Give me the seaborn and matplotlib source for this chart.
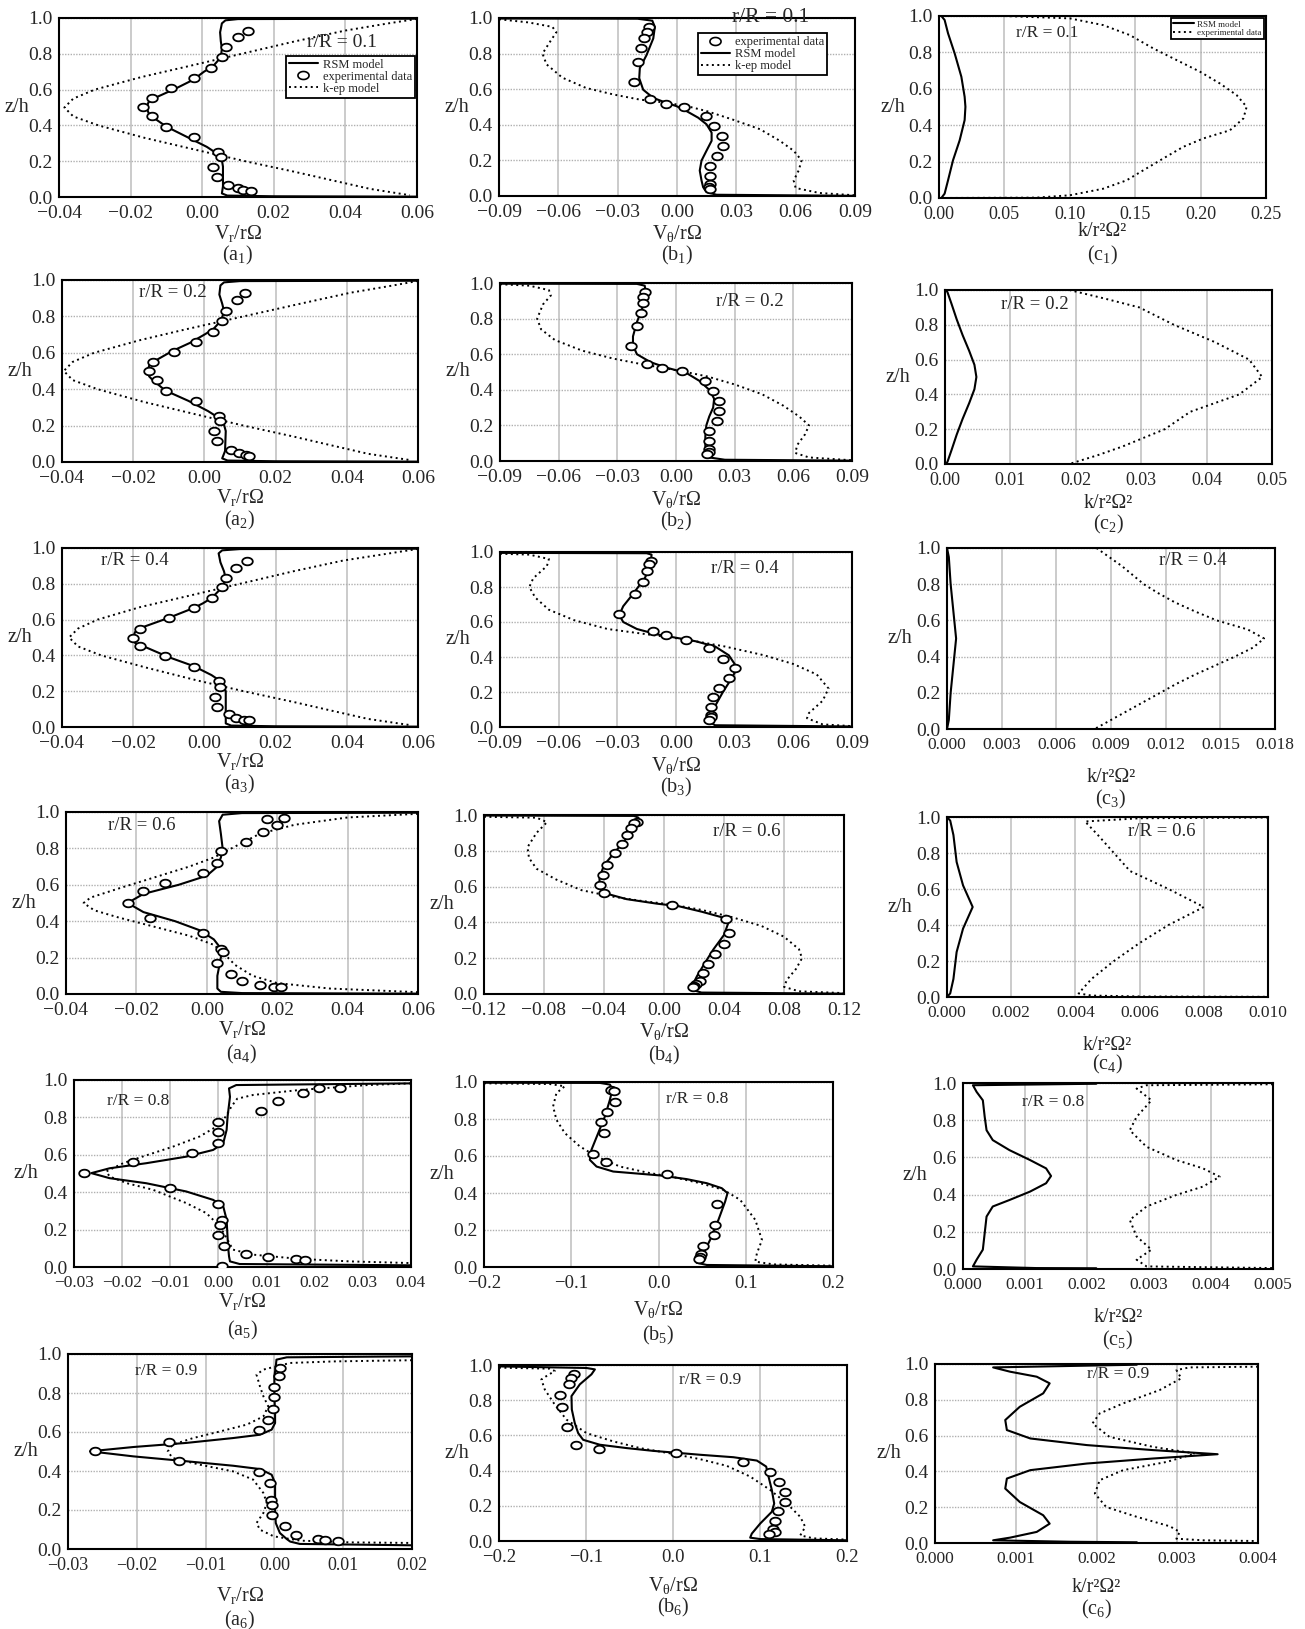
import numpy as np
import matplotlib
matplotlib.use('Agg')
import matplotlib.pyplot as plt
import seaborn as sns
from matplotlib.path import Path
from matplotlib.lines import Line2D
from matplotlib.ticker import FuncFormatter, FixedLocator

# ---------------- data (x value, z/h) ----------------
Z_TICKS = [0.0, 0.2, 0.4, 0.6, 0.8, 1.0]
A_TICKS_14 = [-0.04, -0.02, 0.00, 0.02, 0.04, 0.06]
A_TICKS_5 = [-0.03, -0.02, -0.01, 0.00, 0.01, 0.02, 0.03, 0.04]
A_TICKS_6 = [-0.03, -0.02, -0.01, 0.00, 0.01, 0.02]
B_TICKS_13 = [-0.09, -0.06, -0.03, 0.00, 0.03, 0.06, 0.09]
B_TICKS_4 = [-0.12, -0.08, -0.04, 0.00, 0.04, 0.08, 0.12]
B_TICKS_56 = [-0.2, -0.1, 0.0, 0.1, 0.2]
C_TICKS_1 = [0.00, 0.05, 0.10, 0.15, 0.20, 0.25]
C_TICKS_2 = [0.00, 0.01, 0.02, 0.03, 0.04, 0.05]
C_TICKS_3 = [0.000, 0.003, 0.006, 0.009, 0.012, 0.015, 0.018]
C_TICKS_4 = [0.000, 0.002, 0.004, 0.006, 0.008, 0.010]
C_TICKS_5 = [0.000, 0.001, 0.002, 0.003, 0.004, 0.005]
C_TICKS_6 = [0.000, 0.001, 0.002, 0.003, 0.004]
R_LABELS = ['r/R = 0.1', 'r/R = 0.2', 'r/R = 0.4', 'r/R = 0.6', 'r/R = 0.8', 'r/R = 0.9']

# ---- a1 ----
A_Z_STD = [0.996, 0.994, 0.987, 0.970, 0.920, 0.870, 0.830, 0.780, 0.730, 0.700, 0.655, 0.610, 0.560, 0.530,
           0.500, 0.470, 0.450, 0.393, 0.336, 0.280, 0.243, 0.206, 0.170, 0.060, 0.020, 0.008, 0.004, 0.002]
A1_RSM_X = [0.060, 0.010, 0.0065, 0.0055, 0.0050, 0.0052, 0.0055, 0.0052, 0.0030, 0.0005, -0.0025, -0.0070,
            -0.0125, -0.0150, -0.0155, -0.0150, -0.0141, -0.0100, -0.0043, 0.0013, 0.0041, 0.0055, 0.0058,
            0.0058, 0.0055, 0.0070, 0.020, 0.060]
A_KEP_Z = [0.995, 0.970, 0.930, 0.870, 0.800, 0.730, 0.670, 0.600, 0.550, 0.500, 0.450, 0.400, 0.330, 0.260,
           0.200, 0.140, 0.090, 0.045, 0.010]
A1_KEP_X = [0.060, 0.052, 0.040, 0.026, 0.011, -0.004, -0.017, -0.030, -0.036, -0.0385, -0.036, -0.029,
            -0.016, -0.001, 0.012, 0.026, 0.037, 0.047, 0.058]
A1_EXP_X = [0.0127, 0.0099, 0.0066, 0.0055, 0.0024, -0.0022, -0.0088, -0.0139, -0.0166, -0.0141, -0.0101,
            -0.0022, 0.0045, 0.0052, 0.0031, 0.0041, 0.0073, 0.0099, 0.0115, 0.0136]
A1_EXP_Z = [0.929, 0.892, 0.836, 0.781, 0.720, 0.664, 0.607, 0.551, 0.501, 0.452, 0.393, 0.336, 0.252, 0.224,
            0.168, 0.112, 0.069, 0.050, 0.041, 0.036]
# ---- a2 ----
A2_RSM_X = [0.060, 0.010, 0.0055, 0.0045, 0.0042, 0.0050, 0.0055, 0.0048, 0.0025, 0.0000, -0.0040, -0.0090,
            -0.0135, -0.0155, -0.0160, -0.0155, -0.0145, -0.0110, -0.0045, 0.0010, 0.0040, 0.0055, 0.0060,
            0.0058, 0.0050, 0.0065, 0.020, 0.060]
A2_KEP_X = [0.060, 0.053, 0.041, 0.027, 0.011, -0.005, -0.018, -0.031, -0.037, -0.0395, -0.037, -0.030,
            -0.017, -0.002, 0.011, 0.025, 0.036, 0.046, 0.058]
A2_EXP_X = [0.0114, 0.0091, 0.0061, 0.0050, 0.0023, -0.0023, -0.0086, -0.0143, -0.0155, -0.0132, -0.0109,
            -0.0023, 0.0041, 0.0045, 0.0027, 0.0034, 0.0075, 0.0098, 0.0118, 0.0125]
A2_EXP_Z = [0.927, 0.890, 0.829, 0.774, 0.716, 0.660, 0.606, 0.550, 0.500, 0.450, 0.391, 0.336, 0.253, 0.224,
            0.169, 0.114, 0.068, 0.050, 0.037, 0.034]
# ---- a3 ----
A3_RSM_X = [0.060, 0.010, 0.0050, 0.0040, 0.0045, 0.0055, 0.0060, 0.0050, 0.0020, -0.0005, -0.0030, -0.0100,
            -0.0170, -0.0195, -0.0200, -0.0195, -0.0170, -0.0100, -0.0030, 0.0020, 0.0050, 0.0060, 0.0060,
            0.0060, 0.0060, 0.0075, 0.020, 0.060]
A3_RSM_Z = [0.996, 0.994, 0.987, 0.970, 0.920, 0.870, 0.830, 0.780, 0.720, 0.690, 0.665, 0.610, 0.560, 0.530,
            0.500, 0.470, 0.450, 0.390, 0.340, 0.290, 0.250, 0.200, 0.150, 0.060, 0.020, 0.008, 0.004, 0.002]
A3_KEP_X = [0.060, 0.052, 0.039, 0.025, 0.010, -0.005, -0.018, -0.030, -0.0355, -0.038, -0.0355, -0.029,
            -0.016, -0.002, 0.011, 0.025, 0.036, 0.046, 0.058]
A3_EXP_X = [0.0120, 0.0090, 0.0060, 0.0050, 0.0020, -0.0030, -0.0100, -0.0180, -0.0200, -0.0180, -0.0110,
            -0.0030, 0.0040, 0.0045, 0.0030, 0.0035, 0.0070, 0.0090, 0.0110, 0.0125]
A3_EXP_Z = [0.930, 0.890, 0.835, 0.780, 0.720, 0.665, 0.610, 0.550, 0.500, 0.450, 0.395, 0.335, 0.255, 0.225,
            0.170, 0.110, 0.070, 0.050, 0.040, 0.037]
# ---- a4 ----
A4_RSM_X = [0.060, 0.010, 0.0045, 0.0035, 0.0040, 0.0045, 0.0040, 0.0030, 0.0000, -0.0080, -0.0180, -0.0225,
            -0.0180, -0.0090, -0.0020, 0.0020, 0.0040, 0.0040, 0.0030, 0.0030, 0.0040, 0.0100, 0.060]
A4_RSM_Z = [0.996, 0.994, 0.985, 0.950, 0.880, 0.800, 0.750, 0.700, 0.650, 0.600, 0.550, 0.500, 0.450, 0.400,
            0.350, 0.300, 0.250, 0.200, 0.100, 0.030, 0.012, 0.005, 0.002]
A4_KEP_X = [0.060, 0.040, 0.025, 0.015, 0.007, 0.002, -0.005, -0.015, -0.025, -0.033, -0.035, -0.032, -0.025,
            -0.015, -0.005, 0.002, 0.005, 0.008, 0.013, 0.020, 0.035, 0.060]
A4_KEP_Z = [0.990, 0.970, 0.930, 0.880, 0.800, 0.750, 0.700, 0.640, 0.580, 0.530, 0.500, 0.460, 0.420, 0.370,
            0.320, 0.270, 0.220, 0.160, 0.100, 0.060, 0.030, 0.010]
A4_EXP_X = [0.017, 0.022, 0.020, 0.016, 0.011, 0.004, 0.003, -0.001, -0.012, -0.018, -0.0225, -0.016, -0.001,
            0.004, 0.0045, 0.003, 0.007, 0.010, 0.015, 0.019, 0.021]
A4_EXP_Z = [0.960, 0.965, 0.930, 0.890, 0.835, 0.785, 0.720, 0.665, 0.610, 0.565, 0.500, 0.420, 0.335, 0.250,
            0.230, 0.170, 0.110, 0.070, 0.050, 0.040, 0.040]
# ---- a5 ----
A5_RSM_X = [0.040, 0.0037, 0.0022, 0.0024, 0.0019, 0.0017, 0.0010, -0.0011, -0.0067, -0.0150, -0.0226, -0.0264,
            -0.0226, -0.0150, -0.0067, -0.0011, 0.0010, 0.0017, 0.0020, 0.0022, 0.0024, 0.0044, 0.040]
A5_RSM_Z = [0.982, 0.973, 0.955, 0.910, 0.804, 0.733, 0.662, 0.626, 0.590, 0.555, 0.528, 0.502, 0.475, 0.448,
            0.404, 0.359, 0.324, 0.253, 0.110, 0.057, 0.030, 0.016, 0.009]
A5_KEP_X = [0.040, 0.031, 0.017, 0.0072, 0.0039, 0.0027, 0.0015, -0.0004, -0.0039, -0.0094, -0.0157, -0.0198,
            -0.0233, -0.0226, -0.0190, -0.0136, -0.0067, -0.0025, 0.0003, 0.0019, 0.0030, 0.0072, 0.017,
            0.0273, 0.040]
A5_KEP_Z = [0.982, 0.973, 0.947, 0.920, 0.900, 0.858, 0.804, 0.751, 0.698, 0.644, 0.591, 0.555, 0.511, 0.484,
            0.448, 0.413, 0.342, 0.288, 0.217, 0.146, 0.093, 0.066, 0.043, 0.030, 0.021]
A5_EXP_X = [0.0252, 0.0209, 0.0175, 0.0124, 0.0089, 0.0000, 0.0000, 0.0000, -0.0055, -0.0177, -0.0279, -0.0100,
            0.0000, 0.0008, 0.0004, 0.0000, 0.0012, 0.0058, 0.0103, 0.0162, 0.0180, 0.0008]
A5_EXP_Z = [0.959, 0.957, 0.929, 0.890, 0.834, 0.778, 0.720, 0.665, 0.608, 0.564, 0.502, 0.422, 0.338, 0.249,
            0.226, 0.171, 0.114, 0.068, 0.052, 0.041, 0.039, 0.007]
# ---- a6 ----
A6_RSM_X = [0.020, 0.0018, 0.0003, 0.0002, 0.0000, 0.0000, 0.0001, 0.0001, -0.0004, -0.0021, -0.0060, -0.0128,
            -0.0205, -0.0268, -0.0205, -0.0128, -0.0060, -0.0021, -0.0004, 0.0001, 0.0001, 0.0002, 0.0008,
            0.0018, 0.0023, 0.0037, 0.020]
A6_RSM_Z = [0.988, 0.983, 0.971, 0.937, 0.885, 0.783, 0.697, 0.646, 0.612, 0.586, 0.569, 0.544, 0.523, 0.501,
            0.475, 0.450, 0.427, 0.410, 0.381, 0.338, 0.200, 0.133, 0.082, 0.051, 0.038, 0.026, 0.019]
A6_KEP_X = [0.020, 0.0086, 0.0023, 0.0003, -0.0016, -0.0026, -0.0021, -0.0016, -0.0009, -0.0016, -0.0040,
            -0.0079, -0.0118, -0.0148, -0.0155, -0.0148, -0.0108, -0.0060, -0.0031, -0.0016, -0.0011, -0.0016,
            -0.0026, -0.0021, -0.0001, 0.0037, 0.0110, 0.020]
A6_KEP_Z = [0.968, 0.962, 0.954, 0.937, 0.920, 0.894, 0.834, 0.783, 0.732, 0.680, 0.638, 0.603, 0.569, 0.535,
            0.500, 0.467, 0.432, 0.398, 0.356, 0.287, 0.236, 0.185, 0.133, 0.099, 0.065, 0.043, 0.034, 0.031]
A6_EXP_X = [0.0008, 0.0007, -0.0001, -0.0001, -0.0002, -0.0009, -0.0022, -0.0153, -0.0261, -0.0139, -0.0023,
            -0.0007, -0.0005, -0.0004, -0.0004, 0.0016, 0.0031, 0.0063, 0.0074, 0.0093]
A6_EXP_Z = [0.928, 0.889, 0.831, 0.778, 0.720, 0.663, 0.609, 0.550, 0.501, 0.450, 0.393, 0.338, 0.253, 0.227,
            0.173, 0.116, 0.070, 0.053, 0.044, 0.041]
# ---- b1 ----
B1_RSM_X = [-0.090, -0.020, -0.0125, -0.0112, -0.0120, -0.0154, -0.0188, -0.0191, -0.0171, -0.0120, -0.0053,
            -0.0003, 0.0048, 0.0107, 0.0149, 0.0175, 0.0175, 0.0149, 0.0124, 0.0115, 0.0124, 0.0132, 0.0149,
            0.0200, 0.090]
B1_RSM_Z = [0.997, 0.996, 0.985, 0.950, 0.885, 0.792, 0.718, 0.662, 0.597, 0.551, 0.523, 0.505, 0.477, 0.440,
            0.403, 0.356, 0.310, 0.254, 0.199, 0.143, 0.087, 0.050, 0.022, 0.007, 0.001]
B1_KEP_X = [-0.090, -0.075, -0.063, -0.061, -0.064, -0.068, -0.066, -0.058, -0.046, -0.032, -0.019, -0.005,
            0.005, 0.015, 0.028, 0.042, 0.052, 0.059, 0.063, 0.0615, 0.059, 0.060, 0.072, 0.090]
B1_KEP_Z = [0.993, 0.975, 0.950, 0.920, 0.870, 0.800, 0.740, 0.665, 0.607, 0.570, 0.542, 0.523, 0.505, 0.477,
            0.430, 0.375, 0.310, 0.254, 0.200, 0.143, 0.087, 0.045, 0.017, 0.004]
B1_EXP_X = [-0.0143, -0.0154, -0.0168, -0.0180, -0.0198, -0.0217, -0.0137, -0.0057, 0.0036, 0.0149, 0.0186,
            0.0225, 0.0234, 0.0203, 0.0169, 0.0169, 0.0169, 0.0161, 0.0166]
B1_EXP_Z = [0.950, 0.922, 0.889, 0.829, 0.755, 0.642, 0.545, 0.519, 0.499, 0.449, 0.393, 0.338, 0.282, 0.226,
            0.171, 0.115, 0.069, 0.050, 0.041]
# ---- b2 ----
B2_RSM_X = [-0.090, -0.020, -0.016, -0.0155, -0.016, -0.0175, -0.020, -0.022, -0.022, -0.020, -0.013, -0.005,
            0.000, 0.006, 0.012, 0.017, 0.0195, 0.019, 0.017, 0.0155, 0.015, 0.015, 0.0155, 0.017, 0.025, 0.090]
B2_RSM_Z = [0.996, 0.995, 0.985, 0.950, 0.900, 0.850, 0.780, 0.700, 0.650, 0.600, 0.555, 0.525, 0.510, 0.490,
            0.450, 0.400, 0.350, 0.300, 0.250, 0.200, 0.140, 0.080, 0.040, 0.020, 0.007, 0.002]
B2_KEP_X = [-0.090, -0.075, -0.065, -0.064, -0.068, -0.071, -0.069, -0.062, -0.048, -0.032, -0.018, -0.005,
            0.005, 0.016, 0.030, 0.044, 0.055, 0.063, 0.068, 0.066, 0.062, 0.061, 0.068, 0.090]
B2_KEP_Z = [0.993, 0.985, 0.960, 0.930, 0.880, 0.800, 0.740, 0.680, 0.620, 0.575, 0.545, 0.520, 0.500, 0.475,
            0.430, 0.375, 0.310, 0.250, 0.200, 0.150, 0.090, 0.045, 0.020, 0.004]
B2_EXP_X = [-0.016, -0.017, -0.017, -0.018, -0.020, -0.023, -0.015, -0.007, 0.003, 0.015, 0.019, 0.022, 0.022,
            0.021, 0.017, 0.017, 0.017, 0.017, 0.016]
B2_EXP_Z = [0.950, 0.920, 0.890, 0.830, 0.760, 0.645, 0.545, 0.525, 0.505, 0.450, 0.395, 0.335, 0.280, 0.225,
            0.170, 0.115, 0.070, 0.050, 0.040]
# ---- b3 ----
B3_RSM_X = [-0.090, -0.015, -0.0125, -0.013, -0.016, -0.022, -0.027, -0.029, -0.027, -0.020, -0.010, 0.000,
            0.010, 0.020, 0.027, 0.030, 0.031, 0.028, 0.024, 0.020, 0.018, 0.017, 0.020, 0.090]
B3_RSM_Z = [0.995, 0.993, 0.985, 0.920, 0.850, 0.760, 0.690, 0.640, 0.600, 0.560, 0.530, 0.510, 0.490, 0.460,
            0.410, 0.360, 0.330, 0.270, 0.200, 0.120, 0.060, 0.030, 0.010, 0.003]
B3_KEP_X = [-0.090, -0.075, -0.065, -0.066, -0.073, -0.075, -0.072, -0.065, -0.052, -0.035, -0.015, 0.005,
            0.025, 0.045, 0.060, 0.072, 0.078, 0.075, 0.068, 0.067, 0.075, 0.090]
B3_KEP_Z = [0.990, 0.985, 0.960, 0.920, 0.850, 0.800, 0.740, 0.670, 0.610, 0.560, 0.530, 0.500, 0.460, 0.410,
            0.360, 0.300, 0.220, 0.150, 0.080, 0.050, 0.015, 0.005]
B3_EXP_X = [-0.013, -0.014, -0.015, -0.017, -0.021, -0.029, -0.012, -0.005, 0.005, 0.017, 0.024, 0.030, 0.027,
            0.022, 0.019, 0.018, 0.018, 0.018, 0.017]
B3_EXP_Z = [0.950, 0.930, 0.890, 0.830, 0.760, 0.645, 0.550, 0.525, 0.500, 0.450, 0.390, 0.340, 0.280, 0.225,
            0.170, 0.115, 0.070, 0.055, 0.040]
# ---- b4 ----
B4_RSM_X = [-0.120, -0.020, -0.017, -0.018, -0.024, -0.032, -0.040, -0.043, -0.043, -0.038, -0.025, -0.005,
            0.010, 0.025, 0.038, 0.043, 0.040, 0.033, 0.027, 0.022, 0.019, 0.018, 0.025, 0.120]
B4_RSM_Z = [0.997, 0.995, 0.985, 0.950, 0.880, 0.800, 0.720, 0.650, 0.600, 0.560, 0.530, 0.505, 0.490, 0.460,
            0.430, 0.400, 0.330, 0.250, 0.170, 0.100, 0.050, 0.025, 0.008, 0.002]
B4_KEP_X = [-0.120, -0.085, -0.078, -0.085, -0.091, -0.090, -0.085, -0.072, -0.055, -0.035, -0.015, 0.005,
            0.025, 0.045, 0.065, 0.080, 0.090, 0.092, 0.088, 0.082, 0.080, 0.090, 0.120]
B4_KEP_Z = [0.990, 0.985, 0.960, 0.900, 0.820, 0.760, 0.700, 0.640, 0.580, 0.545, 0.520, 0.500, 0.470, 0.430,
            0.380, 0.320, 0.250, 0.200, 0.140, 0.080, 0.040, 0.015, 0.005]
B4_EXP_X = [-0.018, -0.020, -0.022, -0.025, -0.028, -0.033, -0.038, -0.041, -0.043, -0.040, 0.005, 0.041,
            0.043, 0.040, 0.034, 0.029, 0.026, 0.024, 0.021, 0.020, 0.019]
B4_EXP_Z = [0.960, 0.955, 0.930, 0.890, 0.840, 0.790, 0.720, 0.665, 0.610, 0.565, 0.500, 0.420, 0.340, 0.280,
            0.225, 0.170, 0.115, 0.070, 0.055, 0.045, 0.040]
# ---- b5 ----
B5_RSM_X = [-0.200, -0.067, -0.0557, -0.0527, -0.0557, -0.0614, -0.0691, -0.0768, -0.0787, -0.0710, -0.0519,
            -0.0213, 0.0017, 0.0324, 0.0553, 0.0725, 0.0791, 0.0764, 0.0687, 0.0591, 0.0515, 0.0458, 0.0438,
            0.0553, 0.200]
B5_RSM_Z = [0.996, 0.995, 0.986, 0.962, 0.904, 0.814, 0.724, 0.634, 0.579, 0.543, 0.516, 0.504, 0.495, 0.475,
            0.453, 0.426, 0.399, 0.354, 0.255, 0.146, 0.074, 0.034, 0.023, 0.011, 0.004]
B5_KEP_X = [-0.200, -0.1246, -0.1074, -0.1170, -0.1208, -0.1170, -0.1074, -0.0902, -0.0710, -0.0442, -0.0136,
            0.0170, 0.0477, 0.0745, 0.0936, 0.1109, 0.1186, 0.1128, 0.1109, 0.1320, 0.200]
B5_KEP_Z = [0.993, 0.989, 0.977, 0.940, 0.868, 0.796, 0.724, 0.652, 0.597, 0.543, 0.511, 0.486, 0.453, 0.417,
            0.363, 0.255, 0.146, 0.074, 0.029, 0.014, 0.007]
B5_EXP_X = [-0.0549, -0.0507, -0.0500, -0.0595, -0.0660, -0.0626, -0.0748, -0.0607, 0.0094, 0.0668, 0.0649,
            0.0637, 0.0515, 0.0484, 0.0477, 0.0469]
B5_EXP_Z = [0.958, 0.949, 0.892, 0.836, 0.782, 0.724, 0.610, 0.565, 0.504, 0.341, 0.227, 0.173, 0.114, 0.070,
            0.052, 0.042]
# ---- b6 ----
B6_RSM_X = [-0.200, -0.0994, -0.0898, -0.0937, -0.1071, -0.1167, -0.1163, -0.1129, -0.1090, -0.1033, -0.0841,
            -0.0534, -0.0226, 0.0000, 0.0311, 0.0695, 0.0964, 0.1071, 0.1098, 0.1136, 0.1163, 0.1136, 0.1002,
            0.0906, 0.0887, 0.1002, 0.200]
B6_RSM_Z = [0.992, 0.983, 0.975, 0.947, 0.890, 0.823, 0.747, 0.670, 0.613, 0.575, 0.547, 0.528, 0.512, 0.503,
            0.490, 0.476, 0.457, 0.423, 0.366, 0.290, 0.213, 0.166, 0.099, 0.042, 0.019, 0.011, 0.004]
B6_KEP_X = [-0.200, -0.1417, -0.1359, -0.1455, -0.1513, -0.1474, -0.1359, -0.1225, -0.0994, -0.0687, -0.0380,
            0.0000, 0.0311, 0.0618, 0.0887, 0.1117, 0.1309, 0.1463, 0.1520, 0.1463, 0.1616, 0.200]
B6_KEP_Z = [0.985, 0.979, 0.966, 0.937, 0.918, 0.861, 0.775, 0.690, 0.613, 0.566, 0.528, 0.495, 0.465, 0.427,
            0.366, 0.290, 0.213, 0.137, 0.080, 0.032, 0.015, 0.008]
B6_EXP_X = [-0.1140, -0.1167, -0.1194, -0.1294, -0.1274, -0.1217, -0.1117, -0.0848, 0.0035, 0.0810, 0.1117,
            0.1221, 0.1282, 0.1290, 0.1205, 0.1175, 0.1144, 0.1167, 0.1109]
B6_EXP_Z = [0.950, 0.928, 0.890, 0.832, 0.762, 0.646, 0.547, 0.522, 0.499, 0.448, 0.392, 0.335, 0.280, 0.223,
            0.171, 0.114, 0.070, 0.053, 0.042]
# ---- c1 ----
C1_RSM_X = [0.0018, 0.0043, 0.0069, 0.0120, 0.0171, 0.0196, 0.0202, 0.0196, 0.0158, 0.0107, 0.0069, 0.0043, 0.0018]
C1_RSM_Z = [1.000, 0.978, 0.905, 0.794, 0.666, 0.556, 0.501, 0.428, 0.317, 0.207, 0.097, 0.024, 0.000]
C1_KEP_X = [0.000, 0.049, 0.100, 0.1255, 0.1459, 0.1638, 0.1816, 0.1995, 0.2148, 0.2276, 0.2352, 0.2327, 0.2224,
            0.2020, 0.1867, 0.1714, 0.1561, 0.1434, 0.1255, 0.100, 0.0745, 0.000]
C1_KEP_Z = [1.000, 1.000, 0.987, 0.950, 0.895, 0.822, 0.758, 0.694, 0.629, 0.565, 0.501, 0.437, 0.372, 0.327,
            0.281, 0.217, 0.152, 0.097, 0.051, 0.015, 0.002, 0.000]
# ---- c2 ----
C2_RSM_X = [0.0002, 0.0004, 0.0010, 0.0018, 0.0027, 0.0037, 0.0045, 0.0048, 0.0045, 0.0037, 0.0027, 0.0018,
            0.0010, 0.0004, 0.0002]
C2_RSM_Z = [1.000, 0.985, 0.920, 0.830, 0.740, 0.650, 0.570, 0.500, 0.430, 0.350, 0.260, 0.170, 0.080, 0.015, 0.000]
C2_KEP_X = [0.019, 0.0245, 0.0297, 0.0350, 0.0413, 0.0465, 0.0485, 0.0450, 0.0375, 0.0336, 0.0271, 0.0233, 0.0190]
C2_KEP_Z = [1.000, 0.950, 0.900, 0.800, 0.700, 0.600, 0.500, 0.400, 0.300, 0.200, 0.100, 0.050, 0.000]
# ---- c3 ----
C3_RSM_X = [0.0000, 0.0001, 0.0002, 0.0003, 0.0004, 0.0005, 0.0004, 0.0003, 0.0002, 0.0001, 0.0000]
C3_RSM_Z = [1.000, 0.950, 0.800, 0.700, 0.600, 0.500, 0.400, 0.300, 0.200, 0.050, 0.000]
C3_KEP_X = [0.0082, 0.0089, 0.0096, 0.0102, 0.0108, 0.0116, 0.0125, 0.0136, 0.0148, 0.0165, 0.0174, 0.0168,
            0.0158, 0.0147, 0.0136, 0.0126, 0.0117, 0.0108, 0.0099, 0.0090, 0.0081]
C3_KEP_Z = [1.000, 0.950, 0.900, 0.850, 0.800, 0.750, 0.700, 0.650, 0.600, 0.550, 0.500, 0.450, 0.400, 0.350,
            0.300, 0.250, 0.200, 0.150, 0.100, 0.050, 0.000]
# ---- c4 ----
C4_RSM_X = [0.0000, 0.0001, 0.0002, 0.0003, 0.0005, 0.0008, 0.0005, 0.0003, 0.0002, 0.0001, 0.0000]
C4_RSM_Z = [1.000, 0.980, 0.900, 0.750, 0.620, 0.500, 0.380, 0.250, 0.100, 0.020, 0.000]
C4_KEP_X = [0.010, 0.006, 0.0043, 0.0047, 0.0052, 0.0057, 0.0069, 0.0080, 0.0069, 0.0060, 0.0052, 0.0045,
            0.0041, 0.0045, 0.006, 0.010]
C4_KEP_Z = [0.997, 0.993, 0.975, 0.900, 0.800, 0.700, 0.600, 0.500, 0.400, 0.300, 0.200, 0.100, 0.020, 0.008,
            0.003, 0.001]
# ---- c5 ----
C5_RSM_X = [0.00215, 0.00016, 0.00022, 0.00032, 0.00035, 0.00038, 0.00048, 0.00075, 0.00108, 0.00134, 0.00142,
            0.00134, 0.00108, 0.00075, 0.00048, 0.00038, 0.00035, 0.00032, 0.00022, 0.00016, 0.00118, 0.00215]
C5_RSM_Z = [0.996, 0.988, 0.952, 0.907, 0.818, 0.746, 0.693, 0.639, 0.586, 0.541, 0.500, 0.461, 0.416, 0.371,
            0.336, 0.282, 0.193, 0.104, 0.050, 0.014, 0.005, 0.004]
C5_KEP_X = [0.005, 0.00296, 0.0028, 0.00304, 0.0028, 0.00269, 0.00296, 0.00344, 0.00387, 0.00414, 0.00387,
            0.00344, 0.00296, 0.00269, 0.0028, 0.00304, 0.0028, 0.00296, 0.005]
C5_KEP_Z = [0.993, 0.988, 0.970, 0.907, 0.818, 0.746, 0.657, 0.586, 0.541, 0.496, 0.443, 0.398, 0.336, 0.264,
            0.175, 0.104, 0.050, 0.014, 0.005]
# ---- c6 ----
C6_RSM_X = [0.0025, 0.00072, 0.00093, 0.00126, 0.00142, 0.00134, 0.00105, 0.00087, 0.00089, 0.00118, 0.00188,
            0.0027, 0.0035, 0.0027, 0.00188, 0.00118, 0.00089, 0.00087, 0.00105, 0.00134, 0.00142, 0.00126,
            0.00093, 0.00072, 0.00167, 0.0025]
C6_RSM_Z = [0.996, 0.981, 0.957, 0.929, 0.892, 0.836, 0.761, 0.687, 0.631, 0.584, 0.547, 0.519, 0.496, 0.472,
            0.444, 0.407, 0.360, 0.304, 0.229, 0.155, 0.108, 0.062, 0.030, 0.015, 0.007, 0.004]
C6_KEP_X = [0.004, 0.00315, 0.00299, 0.00305, 0.00278, 0.00233, 0.00204, 0.00195, 0.00216, 0.0027, 0.00322,
            0.00287, 0.00233, 0.00204, 0.00198, 0.00212, 0.0025, 0.00291, 0.00303, 0.00299, 0.00332, 0.004]
C6_KEP_Z = [0.985, 0.981, 0.966, 0.920, 0.854, 0.780, 0.724, 0.668, 0.593, 0.537, 0.500, 0.453, 0.407, 0.351,
            0.276, 0.201, 0.146, 0.093, 0.062, 0.024, 0.015, 0.011]

# ---------------- style ----------------
sns.set_style('white')
plt.rcParams['font.family'] = ['Liberation Serif', 'DejaVu Serif']
plt.rcParams['mathtext.fontset'] = 'custom'
plt.rcParams['mathtext.rm'] = 'Liberation Serif'
plt.rcParams['mathtext.it'] = 'Liberation Serif:italic'
plt.rcParams['axes.unicode_minus'] = True

W, H = 1305, 1629
fig = plt.figure(figsize=(W / 100, H / 100), dpi=100)
fig.patch.set_facecolor('white')

_t = np.linspace(0, 2 * np.pi, 41)
ELLIPSE = Path(np.column_stack([np.cos(_t), 0.72 * np.sin(_t)]), closed=True)
DOT = (0, (1, 1.8))

XL_A = r'V$_{\mathrm{r}}$/rΩ'
XL_B = r'V$_{\mathrm{θ}}$/rΩ'
XL_C = 'k/r²Ω²'


def fmt_factory(dec):
    def f(v, _):
        s = f'{v:.{dec}f}'
        if float(s) == 0:
            s = f'{0:.{dec}f}'
        return s.replace('-', '\u2212')
    return FuncFormatter(f)


def panel(box, ticks, dec, rsm, kep, exp, xlabel, cap, rr, rr_pos, rr_fs, offs, tfs=14, zh=42, legend=None):
    l, r, t, b = box
    ax = fig.add_axes([l / W, 1 - b / H, (r - l) / W, (b - t) / H])
    ax.set_facecolor('white')
    ax.set_axisbelow(True)
    ax.grid(axis='x', color='#c2c2c2', lw=1.2, ls='-')
    ax.grid(axis='y', color='#b0b0b0', lw=1.0, ls=(0, (1, 1)))
    sns.lineplot(x=kep[0], y=kep[1], sort=False, estimator=None, color='black', lw=1.4,
                 linestyle=DOT, ax=ax)
    sns.lineplot(x=rsm[0], y=rsm[1], sort=False, estimator=None, color='black', lw=1.5, ax=ax)
    if exp is not None:
        sns.scatterplot(x=exp[0], y=exp[1], marker=ELLIPSE, s=58, color='white', edgecolor='black',
                        linewidth=1.3, ax=ax, zorder=5)
    ax.set_xlim(ticks[0], ticks[-1])
    ax.set_ylim(0, 1)
    ax.xaxis.set_major_locator(FixedLocator(ticks))
    ax.yaxis.set_major_locator(FixedLocator(Z_TICKS))
    ax.xaxis.set_major_formatter(fmt_factory(dec))
    ax.yaxis.set_major_formatter(fmt_factory(1))
    ax.tick_params(axis='x', labelsize=tfs, length=2.5, width=1, direction='out', color='black', pad=3.2)
    ax.tick_params(axis='y', labelsize=14, length=2.5, width=1, direction='out', color='black', pad=2)
    ax.set_xlabel('')
    ax.set_ylabel('')
    for s in ax.spines.values():
        s.set_visible(True)
        s.set_color('black')
        s.set_linewidth(1.5)
    ax.text(rr_pos[0], rr_pos[1], rr, fontsize=rr_fs, ha='center', va='center', zorder=6)
    cx = (l + r) / 2 / W
    fig.text(cx, 1 - (b + offs[0] + 3) / H, xlabel, fontsize=14.5, ha='center', va='center')
    fig.text(cx, 1 - (b + offs[1] + 2) / H, cap, fontsize=14.5, ha='center', va='center')
    fig.text((l - zh) / W, 1 - (t + b) / 2 / H, 'z/h', fontsize=14.5, ha='center', va='center')
    if legend is not None:
        handles, labels, fs, anchor = legend
        lg = ax.legend(handles, labels, loc='upper right', bbox_to_anchor=anchor, fontsize=fs,
                       frameon=True, fancybox=False, framealpha=1, edgecolor='black',
                       borderpad=0.25, labelspacing=0.0, handlelength=2.3, handletextpad=0.4,
                       borderaxespad=0.0)
        lg.get_frame().set_linewidth(1.3)
        lg.set_zorder(7)
    return ax


H_RSM = Line2D([], [], color='black', lw=1.5)
H_KEP = Line2D([], [], color='black', lw=1.4, ls=DOT)
H_EXP = Line2D([], [], ls='none', marker=ELLIPSE, ms=8, mfc='white', mec='black', mew=1.2)

panels = [
    # row 1
    dict(box=(59, 417, 18, 197), ticks=A_TICKS_14, dec=2, rsm=(A1_RSM_X, A_Z_STD), kep=(A1_KEP_X, A_KEP_Z),
         exp=(A1_EXP_X, A1_EXP_Z), xlabel=XL_A, cap=r'(a$_{\mathrm{1}}$)', rr=R_LABELS[0], rr_pos=(0.039, 0.865),
         rr_fs=14, offs=(33, 56), tfs=14,
         legend=([H_RSM, H_EXP, H_KEP], ['RSM model', 'experimental data', 'k-ep model'], 9, (0.995, 0.79))),
    dict(box=(499, 855, 18, 196), ticks=B_TICKS_13, dec=2, rsm=(B1_RSM_X, B1_RSM_Z), kep=(B1_KEP_X, B1_KEP_Z),
         exp=(B1_EXP_X, B1_EXP_Z), xlabel=XL_B, cap=r'(b$_{\mathrm{1}}$)', rr=R_LABELS[0], rr_pos=(0.0475, 1.005),
         rr_fs=15.5, offs=(34, 57), tfs=14,
         legend=([H_EXP, H_RSM, H_KEP], ['experimental data', 'RSM model', 'k-ep model'], 9, (0.921, 0.916))),
    dict(box=(939, 1266, 16, 198), ticks=C_TICKS_1, dec=2, rsm=(C1_RSM_X, C1_RSM_Z), kep=(C1_KEP_X, C1_KEP_Z),
         exp=None, xlabel=XL_C, cap=r'(c$_{\mathrm{1}}$)', rr=R_LABELS[0], rr_pos=(0.083, 0.907),
         rr_fs=12.5, offs=(31, 55), tfs=13, zh=46,
         legend=([H_RSM, H_KEP], ['RSM model', 'experimental data'], 6.5, (0.994, 0.989))),
    # row 2
    dict(box=(62, 418, 280, 462), ticks=A_TICKS_14, dec=2, rsm=(A2_RSM_X, A_Z_STD), kep=(A2_KEP_X, A_KEP_Z),
         exp=(A2_EXP_X, A2_EXP_Z), xlabel=XL_A, cap=r'(a$_{\mathrm{2}}$)', rr=R_LABELS[1], rr_pos=(-0.009, 0.93),
         rr_fs=13.5, offs=(33, 56), tfs=14),
    dict(box=(500, 852, 283, 461), ticks=B_TICKS_13, dec=2, rsm=(B2_RSM_X, B2_RSM_Z), kep=(B2_KEP_X, B2_KEP_Z),
         exp=(B2_EXP_X, B2_EXP_Z), xlabel=XL_B, cap=r'(b$_{\mathrm{2}}$)', rr=R_LABELS[1], rr_pos=(0.0375, 0.895),
         rr_fs=13.5, offs=(36, 58), tfs=14),
    dict(box=(945, 1272, 290, 464), ticks=C_TICKS_2, dec=2, rsm=(C2_RSM_X, C2_RSM_Z), kep=(C2_KEP_X, C2_KEP_Z),
         exp=None, xlabel=XL_C, cap=r'(c$_{\mathrm{2}}$)', rr=R_LABELS[1], rr_pos=(0.0138, 0.917),
         rr_fs=13.5, offs=(36, 58), tfs=13, zh=47),
    # row 3
    dict(box=(62, 418, 548, 727), ticks=A_TICKS_14, dec=2, rsm=(A3_RSM_X, A3_RSM_Z), kep=(A3_KEP_X, A_KEP_Z),
         exp=(A3_EXP_X, A3_EXP_Z), xlabel=XL_A, cap=r'(a$_{\mathrm{3}}$)', rr=R_LABELS[2], rr_pos=(-0.0195, 0.93),
         rr_fs=13.5, offs=(32, 55), tfs=14),
    dict(box=(500, 852, 552, 727), ticks=B_TICKS_13, dec=2, rsm=(B3_RSM_X, B3_RSM_Z), kep=(B3_KEP_X, B3_KEP_Z),
         exp=(B3_EXP_X, B3_EXP_Z), xlabel=XL_B, cap=r'(b$_{\mathrm{3}}$)', rr=R_LABELS[2], rr_pos=(0.035, 0.904),
         rr_fs=13.5, offs=(36, 58), tfs=14),
    dict(box=(947, 1275, 548, 729), ticks=C_TICKS_3, dec=3, rsm=(C3_RSM_X, C3_RSM_Z), kep=(C3_KEP_X, C3_KEP_Z),
         exp=None, xlabel=XL_C, cap=r'(c$_{\mathrm{3}}$)', rr=R_LABELS[2], rr_pos=(0.0135, 0.93),
         rr_fs=13.5, offs=(46, 68), tfs=12.5, zh=47),
    # row 4
    dict(box=(66, 418, 812, 994), ticks=A_TICKS_14, dec=2, rsm=(A4_RSM_X, A4_RSM_Z), kep=(A4_KEP_X, A4_KEP_Z),
         exp=(A4_EXP_X, A4_EXP_Z), xlabel=XL_A, cap=r'(a$_{\mathrm{4}}$)', rr=R_LABELS[3], rr_pos=(-0.0185, 0.924),
         rr_fs=13.5, offs=(33, 58), tfs=14),
    dict(box=(484, 844, 815, 994), ticks=B_TICKS_4, dec=2, rsm=(B4_RSM_X, B4_RSM_Z), kep=(B4_KEP_X, B4_KEP_Z),
         exp=(B4_EXP_X, B4_EXP_Z), xlabel=XL_B, cap=r'(b$_{\mathrm{4}}$)', rr=R_LABELS[3], rr_pos=(0.0554, 0.907),
         rr_fs=13.5, offs=(34, 59), tfs=14),
    dict(box=(947, 1268, 817, 997), ticks=C_TICKS_4, dec=3, rsm=(C4_RSM_X, C4_RSM_Z), kep=(C4_KEP_X, C4_KEP_Z),
         exp=None, xlabel=XL_C, cap=r'(c$_{\mathrm{4}}$)', rr=R_LABELS[3], rr_pos=(0.0067, 0.919),
         rr_fs=13.5, offs=(45, 65), tfs=12.5, zh=47),
    # row 5
    dict(box=(74, 411, 1080, 1267), ticks=A_TICKS_5, dec=2, rsm=(A5_RSM_X, A5_RSM_Z), kep=(A5_KEP_X, A5_KEP_Z),
         exp=(A5_EXP_X, A5_EXP_Z), xlabel=XL_A, cap=r'(a$_{\mathrm{5}}$)', rr=R_LABELS[4], rr_pos=(-0.0167, 0.888),
         rr_fs=12.5, offs=(31, 61), tfs=12.5, zh=48),
    dict(box=(484, 833, 1082, 1267), ticks=B_TICKS_56, dec=1, rsm=(B5_RSM_X, B5_RSM_Z), kep=(B5_KEP_X, B5_KEP_Z),
         exp=(B5_EXP_X, B5_EXP_Z), xlabel=XL_B, cap=r'(b$_{\mathrm{5}}$)', rr=R_LABELS[4], rr_pos=(0.0446, 0.91),
         rr_fs=12.5, offs=(40, 66), tfs=13.5),
    dict(box=(963, 1273, 1083, 1269), ticks=C_TICKS_5, dec=3, rsm=(C5_RSM_X, C5_RSM_Z), kep=(C5_KEP_X, C5_KEP_Z),
         exp=None, xlabel=XL_C, cap=r'(c$_{\mathrm{5}}$)', rr=R_LABELS[4], rr_pos=(0.00145, 0.898),
         rr_fs=12.5, offs=(46, 69), tfs=12.5, zh=48),
    # row 6
    dict(box=(68, 412, 1354, 1549), ticks=A_TICKS_6, dec=2, rsm=(A6_RSM_X, A6_RSM_Z), kep=(A6_KEP_X, A6_KEP_Z),
         exp=(A6_EXP_X, A6_EXP_Z), xlabel=XL_A, cap=r'(a$_{\mathrm{6}}$)', rr=R_LABELS[5], rr_pos=(-0.0157, 0.915),
         rr_fs=12.5, offs=(43, 69), tfs=13),
    dict(box=(499, 847, 1365, 1541), ticks=B_TICKS_56, dec=1, rsm=(B6_RSM_X, B6_RSM_Z), kep=(B6_KEP_X, B6_KEP_Z),
         exp=(B6_EXP_X, B6_EXP_Z), xlabel=XL_B, cap=r'(b$_{\mathrm{6}}$)', rr=R_LABELS[5], rr_pos=(0.0426, 0.914),
         rr_fs=12.5, offs=(41, 64), tfs=13.5),
    dict(box=(935, 1258, 1364, 1543), ticks=C_TICKS_6, dec=3, rsm=(C6_RSM_X, C6_RSM_Z), kep=(C6_KEP_X, C6_KEP_Z),
         exp=None, xlabel=XL_C, cap=r'(c$_{\mathrm{6}}$)', rr=R_LABELS[5], rr_pos=(0.00227, 0.944),
         rr_fs=12.5, offs=(42, 64), tfs=12.5, zh=46),
]

for p in panels:
    panel(**p)

fig.savefig('out.png', dpi=100, facecolor='white')
